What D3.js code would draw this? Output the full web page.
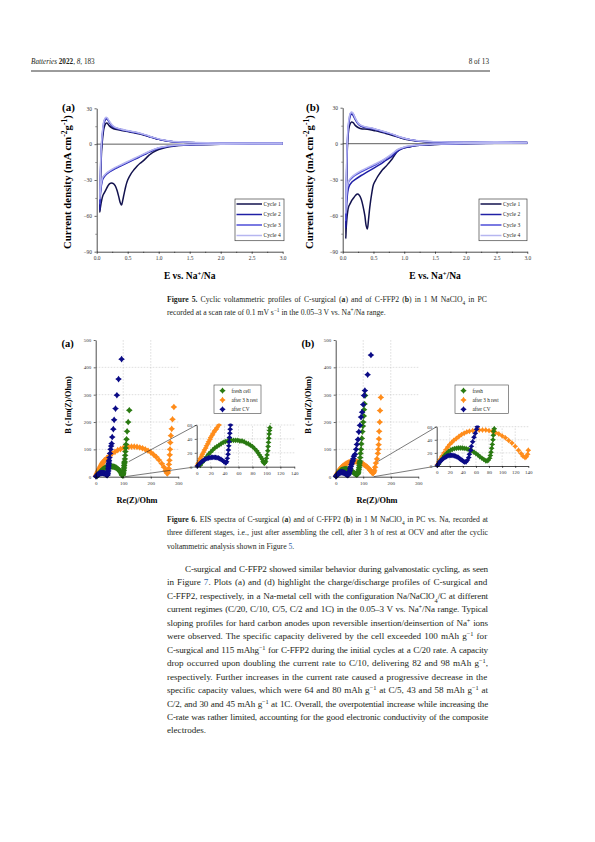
<!DOCTYPE html>
<html><head><meta charset="utf-8">
<script src="https://cdn.jsdelivr.net/npm/d3@7"></script>
<style>body{margin:0;background:#fff}svg{display:block}</style>
</head><body>
<svg id="page" width="595" height="842"></svg>
<script>
// ---------------- DATA ----------------
const cvPotentialTicks = [0.0, 0.5, 1.0, 1.5, 2.0, 2.5, 3.0];
const cvCurrentTicks = [30, 0, -30, -60, -90];
const cycleNames = ["Cycle 1", "Cycle 2", "Cycle 3", "Cycle 4"];

// C-surgical CV (E / V, current density)
const cvA_cycle1 = [[3.0,0.3],[2.5,0.2],[2.0,0],[1.6,-0.5],[1.4,-1],[1.2,-2],[1.1,-3],[1.0,-4.5],[0.9,-7],[0.85,-9],[0.8,-11.5],[0.75,-14],[0.7,-16],[0.65,-18.5],[0.6,-21.5],[0.55,-25],[0.5,-30],[0.47,-35],[0.44,-42],[0.42,-47],[0.40,-51],[0.38,-49],[0.36,-45],[0.33,-39],[0.30,-35],[0.27,-33],[0.24,-32.5],[0.21,-33],[0.18,-35],[0.15,-38],[0.12,-41],[0.10,-43],[0.08,-47],[0.06,-53],[0.05,-57],
  [0.055,-45],[0.065,-25],[0.08,-5],[0.1,7],[0.12,14],[0.15,17.5],[0.17,17.5],[0.2,15.5],[0.25,13.5],[0.3,12.5],[0.4,11.5],[0.5,10.5],[0.6,9.5],[0.7,8.5],[0.8,7],[0.9,5.5],[1.0,4],[1.1,3],[1.2,2.2],[1.4,1.5],[1.6,1.2],[2.0,1],[2.5,1],[3.0,1]];
const cvA_cycle2 = [[3.0,0.3],[2.0,0],[1.5,-0.5],[1.2,-1.5],[1.1,-2.5],[1.0,-3.5],[0.9,-5.5],[0.8,-8],[0.7,-10.5],[0.6,-13],[0.5,-15.5],[0.4,-18],[0.3,-20.5],[0.2,-23.5],[0.15,-25.5],[0.1,-29],[0.08,-33],[0.06,-42],[0.05,-55],
  [0.055,-40],[0.065,-18],[0.08,0],[0.1,11],[0.12,18],[0.15,21],[0.17,21],[0.2,18.5],[0.25,15],[0.3,13.5],[0.4,12],[0.5,11],[0.6,10],[0.7,8.8],[0.8,7.2],[0.9,5.5],[1.0,4],[1.1,3],[1.2,2.2],[1.4,1.5],[1.6,1.2],[2.0,1],[2.5,1],[3.0,1]];
const cvA_cycle3 = [[3.0,0.2],[2.0,0],[1.5,-0.4],[1.2,-1.3],[1.1,-2.2],[1.0,-3.2],[0.9,-5],[0.8,-7.5],[0.7,-10],[0.6,-12.5],[0.5,-15],[0.4,-17.5],[0.3,-20],[0.2,-23],[0.15,-25],[0.1,-28],[0.08,-32],[0.06,-40],[0.05,-50],
  [0.055,-36],[0.065,-15],[0.08,2],[0.1,13],[0.12,19.5],[0.15,22],[0.17,21.5],[0.2,19],[0.25,15.5],[0.3,13.8],[0.4,12.2],[0.5,11.2],[0.6,10.2],[0.7,9],[0.8,7.4],[0.9,5.7],[1.0,4.2],[1.1,3.1],[1.2,2.3],[1.4,1.6],[1.6,1.2],[2.0,1],[2.5,1],[3.0,1]];
const cvA_cycle4 = [[3.0,0.2],[2.0,0],[1.5,-0.3],[1.2,-1.2],[1.1,-2],[1.0,-3],[0.9,-4.8],[0.8,-7.2],[0.7,-9.6],[0.6,-12],[0.5,-14.5],[0.4,-17],[0.3,-19.5],[0.2,-22.5],[0.15,-24.5],[0.1,-27.5],[0.08,-31],[0.06,-38],[0.05,-46],
  [0.055,-33],[0.065,-13],[0.08,3],[0.1,14],[0.12,20],[0.15,22.5],[0.17,22],[0.2,19.5],[0.25,16],[0.3,14],[0.4,12.4],[0.5,11.4],[0.6,10.4],[0.7,9.2],[0.8,7.6],[0.9,5.9],[1.0,4.4],[1.1,3.2],[1.2,2.4],[1.4,1.7],[1.6,1.3],[2.0,1],[2.5,1],[3.0,1]];

// C-FFP2 CV
const cvB_cycle1 = [[3.0,0.5],[2.5,0.4],[2.0,0],[1.6,-0.5],[1.4,-1],[1.2,-1.5],[1.1,-2.5],[1.0,-3.5],[0.9,-6],[0.85,-9],[0.8,-13],[0.75,-16],[0.7,-19],[0.65,-21.5],[0.6,-25],[0.55,-29],[0.5,-34],[0.47,-42],[0.44,-53],[0.42,-63],[0.40,-71],[0.38,-68],[0.36,-60],[0.33,-52],[0.30,-46],[0.27,-43],[0.24,-42],[0.21,-43],[0.18,-45],[0.15,-47],[0.12,-50],[0.1,-52],[0.08,-57],[0.06,-68],[0.05,-79],
  [0.055,-60],[0.065,-30],[0.075,-5],[0.09,8],[0.11,15],[0.14,18],[0.17,17.5],[0.2,15.5],[0.25,13.5],[0.3,12.5],[0.4,12],[0.5,11],[0.6,10],[0.7,8.5],[0.8,7],[0.9,5.5],[1.0,4],[1.1,3],[1.2,2.2],[1.4,1.5],[1.6,1.2],[2.0,1],[2.5,1.2],[3.0,1]];
const cvB_cycle2 = [[3.0,0.5],[2.5,0.4],[2.0,0.1],[1.5,-0.5],[1.2,-1.5],[1.1,-2.3],[1.0,-3.5],[0.9,-6],[0.8,-10.5],[0.7,-14],[0.6,-17.5],[0.5,-20.5],[0.4,-23.5],[0.3,-26.5],[0.2,-30],[0.15,-32],[0.1,-36],[0.08,-41],[0.06,-55],[0.05,-70],
  [0.055,-50],[0.065,-22],[0.075,-2],[0.09,12],[0.11,20],[0.13,24],[0.15,24.5],[0.17,23.5],[0.2,20.5],[0.25,16.5],[0.3,14.5],[0.4,13.2],[0.5,12.2],[0.6,10.8],[0.7,9.3],[0.8,7.8],[0.9,5.9],[1.0,4.4],[1.1,3.2],[1.2,2.4],[1.4,1.7],[1.6,1.4],[2.0,1.1],[2.5,1.4],[3.0,1]];
const cvB_cycle3 = [[3.0,0.5],[2.5,0.4],[2.0,0.1],[1.5,-0.4],[1.2,-1.3],[1.1,-2],[1.0,-3],[0.9,-5],[0.8,-9],[0.7,-12.5],[0.6,-15.5],[0.5,-18.5],[0.4,-21],[0.3,-23.5],[0.2,-26.5],[0.15,-28.5],[0.1,-31.5],[0.08,-36],[0.06,-48],[0.05,-64],
  [0.055,-45],[0.065,-18],[0.075,1],[0.09,14],[0.11,22],[0.13,25.5],[0.15,26],[0.17,25],[0.2,21.5],[0.25,17],[0.3,15],[0.4,13.5],[0.5,12.5],[0.6,11],[0.7,9.5],[0.8,8],[0.9,6],[1.0,4.5],[1.1,3.3],[1.2,2.5],[1.4,1.8],[1.6,1.5],[2.0,1.2],[2.5,1.5],[3.0,1]];
const cvB_cycle4 = [[3.0,0.5],[2.5,0.4],[2.0,0.1],[1.5,-0.3],[1.2,-1.2],[1.1,-1.8],[1.0,-2.8],[0.9,-4.6],[0.8,-8.5],[0.7,-12],[0.6,-15],[0.5,-17.5],[0.4,-20],[0.3,-22.5],[0.2,-25.5],[0.15,-27.5],[0.1,-30.5],[0.08,-34],[0.06,-44],[0.05,-58],
  [0.055,-40],[0.065,-15],[0.075,3],[0.09,15.5],[0.11,23],[0.13,26],[0.15,26.3],[0.17,25.2],[0.2,21.8],[0.25,17.3],[0.3,15.2],[0.4,13.7],[0.5,12.7],[0.6,11.2],[0.7,9.7],[0.8,8.2],[0.9,6.2],[1.0,4.6],[1.1,3.4],[1.2,2.6],[1.4,1.9],[1.6,1.6],[2.0,1.3],[2.5,1.6],[3.0,1]];

// EIS (Re(Z), -Im(Z)) in Ohm
const eisMainXTicks = [0, 100, 200, 300];
const eisMainYTicks = [0, 100, 200, 300, 400, 500];
const eisInsetXTicks = [0, 20, 40, 60, 80, 100, 120, 140];
const eisInsetYTicks = [0, 20, 40, 60];
const eisNamesA = ["fresh cell", "after 3 h rest", "after CV"];
const eisNamesB = ["fresh", "after 3 h rest", "after CV"];

const eisA_fresh = [[5,2],[8,6],[11,10],[14,14],[17,18],[20,21],[23,24],[26,27],[29,29],[32,31],[35,33],[38,35],[41,36],[44,37],[47,38],[50,38],[53,38],[56,38],[59,38],[62,37],[65,37],[68,36],[71,34],[74,33],[77,31],[80,29],[83,26],[86,23],[88,20],[90,17],[92,14],[94,11],[95,8],[96,6],[97,5],[98,6],[99,8],[100,12],[101,17],[102,23],[102.5,29],[103,35],[103.5,41],[104,47],[104.5,52],[105,56],[106,65],[107,78],[108,92],[109,105],[110,118],[112,137],[114,166],[118,200],[122,243]];
const eisA_rest = [[1,2],[2,5],[4,9],[5,12],[7,15],[8,18],[10,21],[11,24],[13,27],[14,30],[16,33],[17,36],[19,39],[20,42],[22,45],[23,47],[25,50],[26,52],[28,54],[29,56],[32,60],[40,68],[50,77],[60,85],[70,91],[80,97],[90,101],[100,105],[110,107],[120,109],[130,110],[140,110],[150,109],[160,107],[170,104],[180,100],[190,95],[200,89],[210,81],[220,72],[230,61],[240,48],[248,35],[254,22],[258,14],[261,12],[263,18],[265,30],[266,45],[268,60],[269,80],[270,100],[271,125],[273,150],[276,175],[279,210],[284,255]];
const eisA_cv = [[1,1],[3,3],[5,5],[7,7],[9,8.5],[11,10],[13,11],[15,12],[17,12.5],[19,13],[21,13.3],[23,13.5],[25,13.5],[27,13.3],[29,13],[31,12.5],[33,11.5],[35,10.5],[37,9],[39,7.5],[41,6],[42,5.5],[43,7],[44,12],[45,18],[45.5,24],[46,30],[46.5,36],[47,42],[47.5,48],[48,54],[48.5,60],[50,70],[52,85],[54,100],[56,112],[58,121],[60,145],[64,174],[67,208],[72,249],[77,298],[83,357],[94,430]];

const eisB_fresh = [[3,3],[6,8],[9,12],[12,16],[15,19],[18,22],[21,24],[24,25.5],[27,26.5],[30,27],[33,27.5],[36,27.5],[39,27.5],[42,27],[45,26.5],[48,25.5],[51,24.5],[54,23],[57,21],[60,19],[63,17],[66,14],[69,12],[72,10],[75,8],[77,8],[79,9],[81,12],[82,16],[83,21],[84,27],[85,33],[86,40],[86.5,47],[87,53],[88,57],[89,70],[90,85],[92,100],[93,120],[95,140],[97,165],[99,185],[100,200],[102,222],[103,245],[105,266],[107,297]];
const eisB_rest = [[1,2],[3,6],[5,10],[8,15],[11,20],[14,25],[17,29],[20,33],[23,36],[26,39],[30,42],[34,45],[38,48],[42,50],[46,52],[50,53],[55,54],[60,55],[65,55],[70,55],[75,55],[80,54],[85,53],[90,51],[95,49],[100,46],[105,43],[110,39],[115,35],[120,30],[125,24],[129,19],[132,15],[135,13],[137,14],[139,18],[140,24],[143,35],[146,50],[150,65],[153,85],[155,100],[156,117],[157,138],[158,166],[160,200],[161,242],[164,290]];
const eisB_cv = [[1,1],[3,4],[5,6.5],[7,8.5],[9,10.5],[11,12],[13,13.5],[15,14.5],[17,15.5],[19,16],[21,16.3],[23,16.3],[25,16],[27,15.5],[29,15],[31,14],[33,13],[35,11.5],[37,10],[39,8.5],[41,7],[43,6],[45,6.5],[47,9],[49,13],[50,18],[52,24],[53,30],[55,37],[57,44],[59,50],[61,56],[62,60],[64,66],[66,75],[70,82],[74,100],[77,118],[81,136],[84,164],[88,188],[92,218],[96,236],[100,264],[103,297],[106,315],[116,373],[128,445]];

// ---------------- TEXT ----------------
const headerLeft = [{t:"Batteries",i:true}," ",{t:"2022",b:true},", ",{t:"8",i:true},", 183"];
const headerRight = "8 of 13";
const caption5 = [
  [{t:"Figure 5.",b:true},"  Cyclic voltammetric profiles of C-surgical (",{t:"a",b:true},") and of C-FFP2 (",{t:"b",b:true},") in 1 M NaClO",{t:"4",sub:true}," in PC"],
  ["recorded at a scan rate of 0.1 mV s",{t:"−1",sup:true}," in the 0.05–3 V vs. Na",{t:"+",sup:true},"/Na range."]
];
const caption6 = [
  [{t:"Figure 6.",b:true}," EIS spectra of C-surgical (",{t:"a",b:true},") and of C-FFP2 (",{t:"b",b:true},") in 1 M NaClO",{t:"4",sub:true}," in PC vs. Na, recorded at"],
  ["three different stages, i.e., just after assembling the cell, after 3 h of rest at OCV and after the cyclic"],
  ["voltammetric analysis shown in Figure ",{t:"5",link:true},"."]
];
const bodyLines = [
  ["C-surgical and C-FFP2 showed similar behavior during galvanostatic cycling, as seen"],
  ["in Figure ",{t:"7",link:true},".  Plots (a) and (d) highlight the charge/discharge profiles of C-surgical and"],
  ["C-FFP2, respectively, in a Na-metal cell with the configuration Na/NaClO",{t:"4",sub:true},"/C at different"],
  ["current regimes (C/20, C/10, C/5, C/2 and 1C) in the 0.05–3 V vs. Na",{t:"+",sup:true},"/Na range. Typical"],
  ["sloping profiles for hard carbon anodes upon reversible insertion/deinsertion of Na",{t:"+",sup:true}," ions"],
  ["were observed.  The specific capacity delivered by the cell exceeded 100 mAh g",{t:"−1",sup:true}," for"],
  ["C-surgical and 115 mAhg",{t:"−1",sup:true}," for C-FFP2 during the initial cycles at a C/20 rate. A capacity"],
  ["drop occurred upon doubling the current rate to C/10, delivering 82 and 98 mAh g",{t:"−1",sup:true},","],
  ["respectively.  Further increases in the current rate caused a progressive decrease in the"],
  ["specific capacity values, which were 64 and 80 mAh g",{t:"−1",sup:true}," at C/5, 43 and 58 mAh g",{t:"−1",sup:true}," at"],
  ["C/2, and 30 and 45 mAh g",{t:"−1",sup:true}," at 1C. Overall, the overpotential increase while increasing the"],
  ["C-rate was rather limited, accounting for the good electronic conductivity of the composite"],
  ["electrodes."]
];

// ---------------- RENDER ----------------
const SERIF = "'Liberation Serif','Times New Roman',serif";
const INK = "#231f20";
const LINK = "#2c5ea8";
const cycleColors = ["#12124e", "#2020a6", "#4e4ed8", "#b6b6f0"];
const eisColors = ["#2a7a12", "#ff8c1a", "#0b0b86"];
const svg = d3.select("#page");
svg.append("rect").attr("width", 595).attr("height", 842).attr("fill", "#fff");

function richText(g, x, y, parts, o) {
  const t = g.append("text").attr("x", x).attr("y", y)
    .attr("font-family", SERIF).attr("font-size", o.size).attr("fill", o.fill || INK);
  if (o.anchor) t.attr("text-anchor", o.anchor);
  if (o.bold) t.attr("font-weight", "bold");
  if (o.rotate) t.attr("transform", `rotate(-90 ${x} ${y})`);
  parts.forEach(p => {
    if (typeof p === "string") { t.append("tspan").text(p); return; }
    const s = t.append("tspan").text(p.t);
    if (p.b) s.attr("font-weight", "bold");
    if (p.i) s.attr("font-style", "italic");
    if (p.link) s.attr("fill", LINK);
    if (p.sup) s.attr("baseline-shift", "super").attr("font-size", o.size * 0.7);
    if (p.sub) s.attr("baseline-shift", "sub").attr("font-size", o.size * 0.7);
  });
  if (o.width) {
    let nat = t.node().getComputedTextLength();
    const txt = t.text();
    const n = (txt.match(/ /g) || []).length;
    if (nat > o.width - n * 0.6) {
      const ls = (o.width - n * 0.6 - nat) / txt.length;
      t.attr("letter-spacing", ls);
      nat = t.node().getComputedTextLength();
    }
    if (n > 0) t.attr("word-spacing", (o.width - nat) / n);
  }
  return t;
}

// header
richText(svg, 31, 64, headerLeft, {size: 7.2});
richText(svg, 489, 64, [headerRight], {size: 7.2, anchor: "end"});
svg.append("line").attr("x1", 31).attr("x2", 490).attr("y1", 71).attr("y2", 71)
  .attr("stroke", "#222").attr("stroke-width", 0.9);

function styleAxis(g, fs) {
  g.select(".domain").attr("stroke", "#000").attr("stroke-width", 0.7);
  g.selectAll(".tick line").attr("stroke", "#000").attr("stroke-width", 0.6);
  g.selectAll(".tick text").attr("font-family", SERIF).attr("font-size", fs).attr("fill", "#333");
}

// ---------- Figure 5: CV ----------
function cvPanel(cfg, cycles) {
  const x = d3.scaleLinear().domain([0, 3]).range([cfg.x0, cfg.x1]);
  const y = d3.scaleLinear().domain([-90, 30]).range([cfg.yb, cfg.yt]);
  const g = svg.append("g");
  const minorX = d3.range(0.25, 3, 0.5);
  const minorY = [15, -15, -45, -75];
  g.append("g").attr("transform", `translate(0,${cfg.yb})`)
    .call(d3.axisBottom(x).tickValues(minorX).tickFormat("").tickSize(1.3).tickSizeOuter(0))
    .call(a => { a.select(".domain").remove(); a.selectAll("line").attr("stroke", "#000").attr("stroke-width", 0.5); });
  g.append("g").attr("transform", `translate(${cfg.x0},0)`)
    .call(d3.axisLeft(y).tickValues(minorY).tickFormat("").tickSize(1.3).tickSizeOuter(0))
    .call(a => { a.select(".domain").remove(); a.selectAll("line").attr("stroke", "#000").attr("stroke-width", 0.5); });
  const ax = g.append("g").attr("transform", `translate(0,${cfg.yb})`)
    .call(d3.axisBottom(x).tickValues(cvPotentialTicks).tickFormat(d3.format(".1f")).tickSize(2.2).tickSizeOuter(0).tickPadding(2.5));
  styleAxis(ax, 5.4);
  const ay = g.append("g").attr("transform", `translate(${cfg.x0},0)`)
    .call(d3.axisLeft(y).tickValues(cvCurrentTicks).tickSize(2.2).tickSizeOuter(0).tickPadding(2.5));
  styleAxis(ay, 5.4);
  g.append("line").attr("x1", x(0)).attr("x2", x(3)).attr("y1", y(0)).attr("y2", y(0))
    .attr("stroke", "#333").attr("stroke-width", 0.8);
  const line = d3.line().x(d => x(d[0])).y(d => y(d[1])).curve(d3.curveCatmullRom.alpha(0.5));
  cycles.forEach((c, i) => {
    g.append("path").attr("d", line(c)).attr("fill", "none")
      .attr("stroke", cycleColors[i]).attr("stroke-width", 1.5).attr("stroke-linejoin", "round");
  });
  const lg = g.append("g");
  lg.append("rect").attr("x", cfg.lx0).attr("y", 199).attr("width", cfg.lx1 - cfg.lx0).attr("height", 41.7)
    .attr("fill", "#fff").attr("stroke", "#444").attr("stroke-width", 0.7);
  const rowY = d3.scalePoint().domain(cycleNames).range([204, 235.5]);
  cycleNames.forEach((n, i) => {
    lg.append("line").attr("x1", cfg.lx0 + 1.5).attr("x2", cfg.lsw).attr("y1", rowY(n)).attr("y2", rowY(n))
      .attr("stroke", cycleColors[i]).attr("stroke-width", 1.5);
    richText(lg, cfg.lsw + 1.5, rowY(n) + 1.9, [n], {size: 5.6});
  });
  richText(g, cfg.lab, 111, [cfg.tag], {size: 11, bold: true, fill: "#000"});
  richText(g, cfg.ylx, 182, ["Current density (mA cm", {t: "-2", sup: true}, "g", {t: "-1", sup: true}, ")"],
    {size: 10.8, bold: true, anchor: "middle", rotate: true, fill: "#000"});
  richText(g, (cfg.x0 + cfg.x1) / 2, 279, ["E vs. Na", {t: "+", sup: true}, "/Na"],
    {size: 9.5, bold: true, anchor: "middle", fill: "#000"});
}
cvPanel({x0: 96.7, x1: 282.7, yb: 251.7, yt: 108.3, lx0: 235, lx1: 284, lsw: 262, lab: 62, tag: "(a)", ylx: 71},
  [cvA_cycle1, cvA_cycle2, cvA_cycle3, cvA_cycle4]);
cvPanel({x0: 342.7, x1: 527.3, yb: 251.7, yt: 107.7, lx0: 479, lx1: 527, lsw: 501.5, lab: 306, tag: "(b)", ylx: 313},
  [cvB_cycle1, cvB_cycle2, cvB_cycle3, cvB_cycle4]);

caption5.forEach((ln, i) => richText(svg, 167, 301.5 + i * 13.5, ln, {size: 7.7, width: i === 0 ? 321 : null}));

// ---------- Figure 6: EIS ----------
const starSym = {
  draw(ctx, size) {
    const r = Math.sqrt(size) / 2, k = 0.42 * r;
    ctx.moveTo(0, -r); ctx.lineTo(k, -k); ctx.lineTo(r, 0); ctx.lineTo(k, k);
    ctx.lineTo(0, r); ctx.lineTo(-k, k); ctx.lineTo(-r, 0); ctx.lineTo(-k, -k); ctx.closePath();
  }
};
let clipId = 0;
function eisPanel(cfg, series, names) {
  const g = svg.append("g");
  const x = d3.scaleLinear().domain([0, 300]).range([cfg.x0, cfg.x0 + 82.6]);
  const y = d3.scaleLinear().domain([0, 500]).range([476.7, 340]);
  const xi = d3.scaleLinear().domain([0, 140]).range([cfg.ix0, cfg.ix1]);
  const yi = d3.scaleLinear().domain([0, 60]).range([cfg.iyb, cfg.iyt]);
  const grid = (sel) => sel.attr("stroke", "#bdbdbd").attr("stroke-width", 0.5).attr("stroke-dasharray", "1.6,1.4");
  [100, 200].forEach(v => grid(g.append("line").attr("x1", x(v)).attr("x2", x(v)).attr("y1", y(0)).attr("y2", y(500))));
  [100, 200, 300, 400].forEach(v => grid(g.append("line").attr("x1", x(0)).attr("x2", x(300)).attr("y1", y(v)).attr("y2", y(v))));
  eisInsetXTicks.slice(1, -1).forEach(v => grid(g.append("line").attr("x1", xi(v)).attr("x2", xi(v)).attr("y1", yi(0)).attr("y2", yi(60))));
  [20, 40, 60].forEach(v => grid(g.append("line").attr("x1", xi(0)).attr("x2", xi(140)).attr("y1", yi(v)).attr("y2", yi(v))));

  const sym = d3.symbol().type(starSym);
  const order = [1, 0, 2];
  order.forEach(i => {
    g.append("g").selectAll("path").data(series[i]).join("path")
      .attr("d", sym.size(44)()).attr("transform", d => `translate(${x(d[0])},${y(d[1])})`)
      .attr("fill", eisColors[i]);
  });
  const cid = "clip" + (clipId++);
  g.append("clipPath").attr("id", cid).append("rect")
    .attr("x", xi(0) - 3).attr("y", yi(62)).attr("width", xi(140) - xi(0) + 6).attr("height", yi(0) - yi(62) + 3);
  const ig = g.append("g").attr("clip-path", `url(#${cid})`);
  order.forEach(i => {
    ig.append("g").selectAll("path").data(series[i].filter(d => d[0] <= 142 && d[1] <= 66)).join("path")
      .attr("d", sym.size(34)()).attr("transform", d => `translate(${xi(d[0])},${yi(d[1])})`)
      .attr("fill", eisColors[i]);
  });
  const ax = g.append("g").attr("transform", `translate(0,${y(0)})`)
    .call(d3.axisBottom(x).tickValues(eisMainXTicks).tickSize(2).tickSizeOuter(0).tickPadding(2.5));
  styleAxis(ax, 5);
  const ay = g.append("g").attr("transform", `translate(${x(0)},0)`)
    .call(d3.axisLeft(y).tickValues(eisMainYTicks).tickSize(2).tickSizeOuter(0).tickPadding(2.5));
  styleAxis(ay, 5);
  const iax = g.append("g").attr("transform", `translate(0,${yi(0)})`)
    .call(d3.axisBottom(xi).tickValues(eisInsetXTicks).tickSize(2).tickSizeOuter(0).tickPadding(2.5));
  styleAxis(iax, 5);
  const iay = g.append("g").attr("transform", `translate(${xi(0)},0)`)
    .call(d3.axisLeft(yi).tickValues(eisInsetYTicks).tickSize(2).tickSizeOuter(0).tickPadding(2.5));
  styleAxis(iay, 5);
  g.append("line").attr("x1", x(cfg.zx)).attr("y1", y(55)).attr("x2", xi(0)).attr("y2", yi(60))
    .attr("stroke", "#222").attr("stroke-width", 0.6);
  g.append("line").attr("x1", x(cfg.zx - 14)).attr("y1", y(0)).attr("x2", xi(0)).attr("y2", yi(0))
    .attr("stroke", "#222").attr("stroke-width", 0.6);
  const lg = g.append("g");
  lg.append("rect").attr("x", cfg.lx0).attr("y", 385).attr("width", cfg.lw).attr("height", 28.3)
    .attr("fill", "#fff").attr("stroke", "#444").attr("stroke-width", 0.6);
  const rowY = d3.scalePoint().domain(names).range([390.7, 409.3]);
  names.forEach((n, i) => {
    lg.append("path").attr("d", sym.size(40)()).attr("transform", `translate(${cfg.lx0 + 8.5},${rowY(n)})`)
      .attr("fill", eisColors[i]);
    richText(lg, cfg.lx0 + 17.5, rowY(n) + 1.9, [n], {size: 5.2});
  });
  richText(g, cfg.lab, 346.5, [cfg.tag], {size: 10.5, bold: true, fill: "#000"});
  richText(g, cfg.x0 - 25, 405, ["B (-Im(Z)/Ohm)"], {size: 8.3, bold: true, anchor: "middle", rotate: true, fill: "#000"});
  richText(g, x(150), 503, ["Re(Z)/Ohm"], {size: 8.3, bold: true, anchor: "middle", fill: "#000"});
}
eisPanel({x0: 95.7, ix0: 196.7, ix1: 294.3, iyb: 466.7, iyt: 425, zx: 120, lx0: 214, lw: 47, lab: 61.5, tag: "(a)"},
  [eisA_fresh, eisA_rest, eisA_cv], eisNamesA);
eisPanel({x0: 335.7, ix0: 436.7, ix1: 528.3, iyb: 466, iyt: 426.7, zx: 152, lx0: 455, lw: 53.3, lab: 301.5, tag: "(b)"},
  [eisB_fresh, eisB_rest, eisB_cv], eisNamesB);

caption6.forEach((ln, i) => richText(svg, 167, 521.5 + i * 13.5, ln, {size: 7.7, width: i < 2 ? 321 : null}));

bodyLines.forEach((ln, i) => {
  const first = i === 0, last = i === bodyLines.length - 1;
  const x0 = first ? 185 : 167;
  richText(svg, x0, 572 + i * 13.45, ln, {size: 9.1, width: last ? null : 488 - x0});
});
</script>
</body></html>
